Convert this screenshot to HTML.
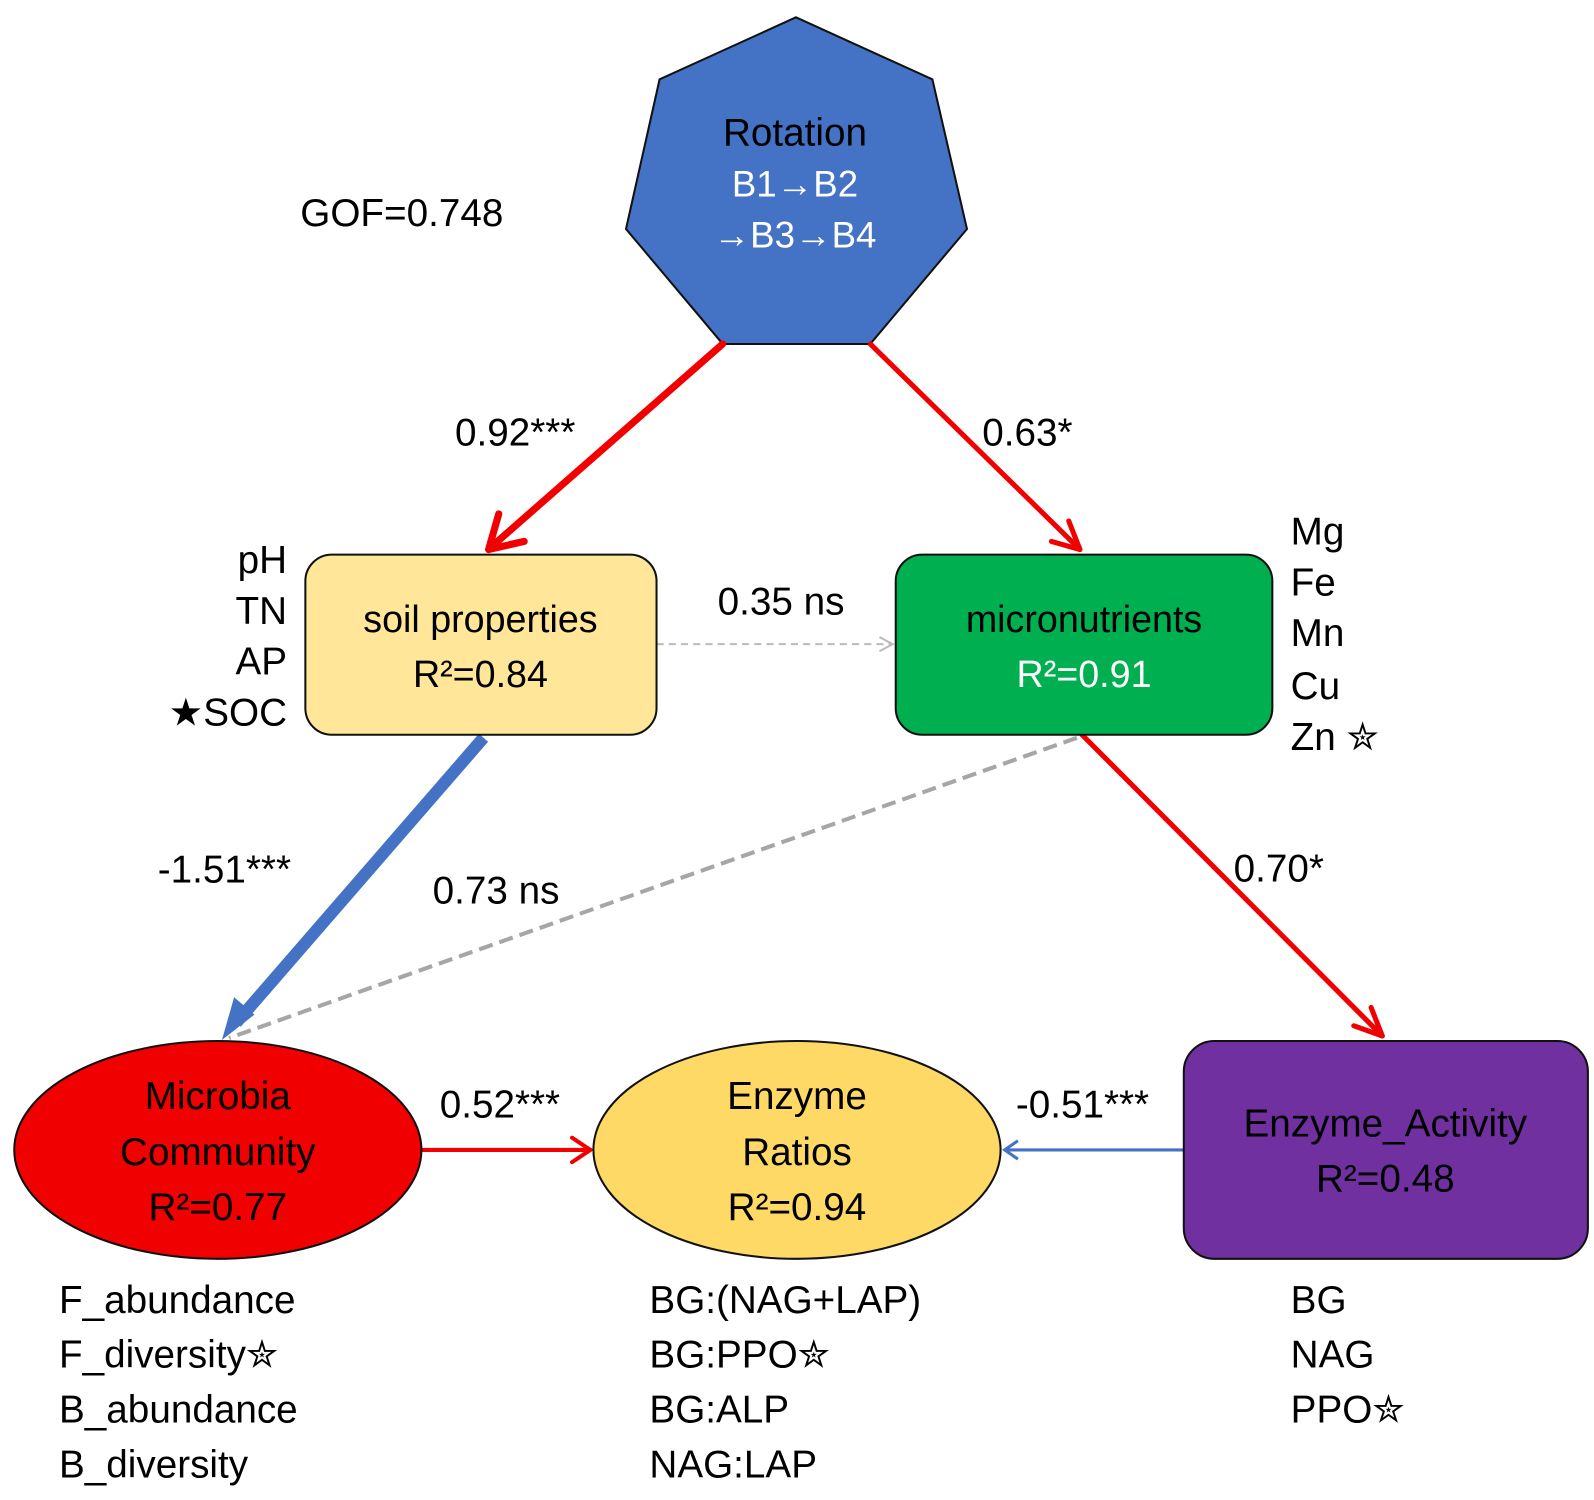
<!DOCTYPE html>
<html><head><meta charset="utf-8"><style>
html,body{margin:0;padding:0;background:#fff;}
svg{display:block;}
text{font-family:"Liberation Sans",sans-serif;}
.s{font-family:"Liberation Serif",serif;font-size:38px;}
</style></head><body>
<svg width="1594" height="1500" viewBox="0 0 1566 1474" preserveAspectRatio="none" xmlns="http://www.w3.org/2000/svg">
<rect width="1566" height="1474" fill="#fff"/>
<!-- heptagon -->
<polygon points="782,17 916,78 950,225 855,338 710,338 615,225 648,78" fill="#4472C4" stroke="#111" stroke-width="2"/>
<text x="781" y="143" font-size="38" text-anchor="middle" fill="#000">Rotation</text>
<text x="781" y="193" font-size="36" text-anchor="middle" fill="#fff">B1→B2</text>
<text x="781" y="243" font-size="36" text-anchor="middle" fill="#fff">→B3→B4</text>
<text x="295" y="222" font-size="38" fill="#000">GOF=0.748</text>

<!-- arrows -->
<g stroke="#F20000" fill="none" stroke-linecap="round" stroke-linejoin="round">
<line x1="710" y1="338" x2="482" y2="538" stroke-width="7"/>
<polyline points="490,505 480,540 515,532" stroke-width="7"/>
<line x1="855" y1="338" x2="1061" y2="540" stroke-width="5"/>
<polyline points="1050,512 1061,540 1033,532" stroke-width="5"/>
<line x1="1063" y1="722" x2="1358" y2="1018" stroke-width="5"/>
<polyline points="1347,990 1358,1018 1330,1008" stroke-width="5"/>
<line x1="415" y1="1130" x2="580" y2="1130" stroke-width="4"/>
<polyline points="562,1118 580,1130 562,1142" stroke-width="4"/>
</g>
<line x1="645" y1="633" x2="876" y2="633" stroke="#bbb" stroke-width="2" stroke-dasharray="7,5"/>
<polyline points="864,626 877,633 864,640" stroke="#bbb" stroke-width="2" fill="none"/>
<line x1="475" y1="725" x2="232" y2="1005" stroke="#4472C4" stroke-width="12"/>
<polygon points="218,1022 230,980 250,997" fill="#4472C4"/>
<line x1="1058" y1="725" x2="225" y2="1020" stroke="#A6A6A6" stroke-width="4" stroke-dasharray="14,7"/>
<line x1="1163" y1="1130" x2="988" y2="1130" stroke="#4472C4" stroke-width="3"/>
<polyline points="1000,1121 987,1130 1000,1139" stroke="#4472C4" stroke-width="3" fill="none"/>

<!-- nodes -->
<rect x="300" y="545" width="345" height="177" rx="26" fill="#FFE699" stroke="#111" stroke-width="2"/>
<text x="472" y="621" font-size="37" text-anchor="middle">soil properties</text>
<text x="472" y="675" font-size="37" text-anchor="middle">R²=0.84</text>
<rect x="880" y="545" width="370" height="177" rx="26" fill="#00B050" stroke="#111" stroke-width="2"/>
<text x="1065" y="621" font-size="37" text-anchor="middle">micronutrients</text>
<text x="1065" y="675" font-size="37" text-anchor="middle" fill="#fff">R²=0.91</text>
<rect x="1163" y="1023" width="397" height="214" rx="30" fill="#7030A0" stroke="#111" stroke-width="2"/>
<text x="1361" y="1117" font-size="38" text-anchor="middle">Enzyme_Activity</text>
<text x="1361" y="1171" font-size="38" text-anchor="middle">R²=0.48</text>
<ellipse cx="214" cy="1130" rx="200" ry="107" fill="#F00000" stroke="#111" stroke-width="2"/>
<text x="214" y="1090" font-size="38" text-anchor="middle">Microbia</text>
<text x="214" y="1145" font-size="38" text-anchor="middle">Community</text>
<text x="214" y="1199" font-size="38" text-anchor="middle">R²=0.77</text>
<ellipse cx="783" cy="1130" rx="200" ry="107" fill="#FFD966" stroke="#111" stroke-width="2"/>
<text x="783" y="1090" font-size="38" text-anchor="middle">Enzyme</text>
<text x="783" y="1145" font-size="38" text-anchor="middle">Ratios</text>
<text x="783" y="1199" font-size="38" text-anchor="middle">R²=0.94</text>

<!-- path labels -->
<g font-size="38" fill="#000">
<text x="447" y="438">0.92***</text>
<text x="965" y="438">0.63*</text>
<text x="705" y="604">0.35 ns</text>
<text x="155" y="867">-1.51***</text>
<text x="425" y="888">0.73 ns</text>
<text x="1212" y="866">0.70*</text>
<text x="432" y="1098">0.52***</text>
<text x="998" y="1098">-0.51***</text>
</g>

<!-- serif indicator labels -->
<g class="s" text-anchor="end">
<text x="282" y="563">pH</text>
<text x="282" y="613">TN</text>
<text x="282" y="663">AP</text>
<text x="282" y="713">★SOC</text>
</g>
<g class="s">
<text x="1268" y="535">Mg</text>
<text x="1268" y="585">Fe</text>
<text x="1268" y="635">Mn</text>
<text x="1268" y="687">Cu</text>
<text x="1268" y="737">Zn ✮</text>
</g>

<!-- bottom lists -->
<g font-size="38" fill="#000">
<text x="58" y="1290">F_abundance</text>
<text x="58" y="1344">F_diversity✮</text>
<text x="58" y="1398">B_abundance</text>
<text x="58" y="1452">B_diversity</text>
<text x="638" y="1290">BG:(NAG+LAP)</text>
<text x="638" y="1344">BG:PPO✮</text>
<text x="638" y="1398">BG:ALP</text>
<text x="638" y="1452">NAG:LAP</text>
<text x="1268" y="1290">BG</text>
<text x="1268" y="1344">NAG</text>
<text x="1268" y="1398">PPO✮</text>
</g>
</svg>
</body></html>
